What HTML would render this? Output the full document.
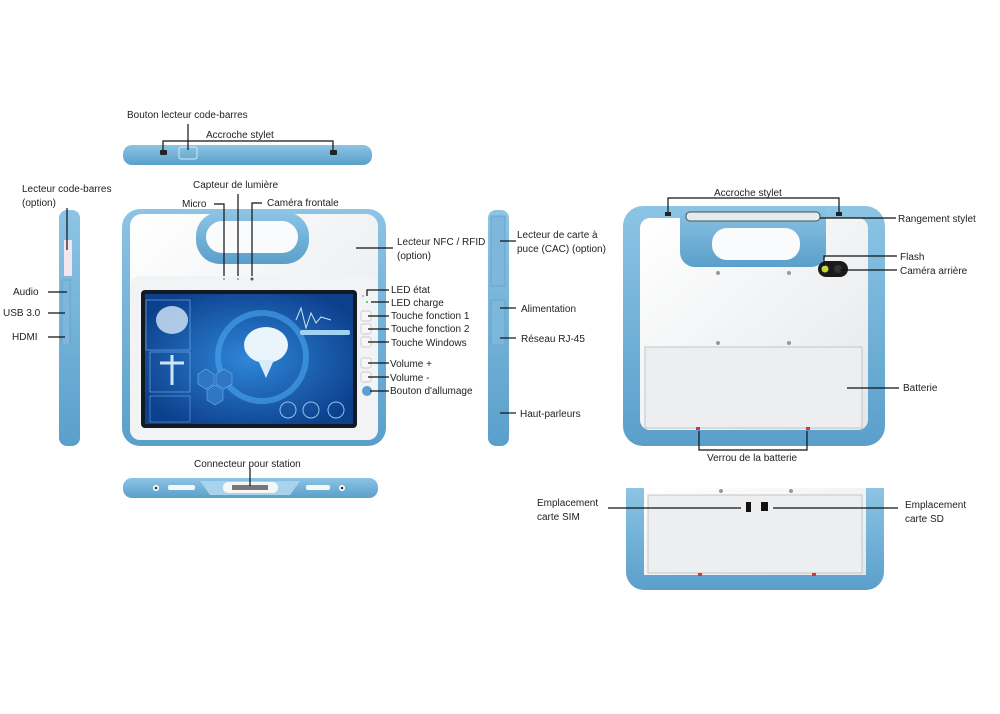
<!DOCTYPE html>
<html><head><meta charset="utf-8"><style>
html,body{margin:0;padding:0;background:#fff;}
svg{display:block;}
text{font-family:"Liberation Sans",sans-serif;font-size:10px;fill:#222;}
</style></head><body>
<svg width="1000" height="714" viewBox="0 0 1000 714" xmlns="http://www.w3.org/2000/svg">
<defs>
<linearGradient id="bl" x1="0" y1="0" x2="0" y2="1"><stop offset="0" stop-color="#8cc4e4"/><stop offset="1" stop-color="#5a9fcb"/></linearGradient>
<linearGradient id="wh" x1="0" y1="0" x2="1" y2="1"><stop offset="0" stop-color="#ffffff"/><stop offset="1" stop-color="#e4e7ea"/></linearGradient>
<radialGradient id="scr" cx="0.5" cy="0.5" r="0.6"><stop offset="0" stop-color="#2f86d8"/><stop offset="1" stop-color="#0c3f8c"/></radialGradient>
</defs>

<!-- TOP VIEW -->
<rect x="123" y="145" width="249" height="20" rx="9" fill="url(#bl)"/>
<rect x="160" y="150" width="7" height="5" rx="1" fill="#222"/>
<rect x="330" y="150" width="7" height="5" rx="1" fill="#222"/>
<rect x="179" y="147" width="18" height="12" rx="2" fill="none" stroke="#d8eaf5" stroke-width="1"/>

<!-- LEFT SIDE -->
<rect x="59" y="210" width="21" height="236" rx="8" fill="url(#bl)"/>
<rect x="64" y="240" width="8" height="36" fill="#f4e6ee"/>
<rect x="62" y="280" width="8" height="65" fill="#7db8dc" stroke="#5a98c0" stroke-width="0.6"/>

<!-- FRONT -->
<rect x="122" y="209" width="264" height="237" rx="18" fill="url(#bl)"/>
<rect x="130" y="214" width="248" height="226" rx="12" fill="url(#wh)"/>
<rect x="130" y="276" width="248" height="164" rx="10" fill="#f2f3f4"/>
<rect x="196" y="212" width="113" height="52" rx="24" fill="url(#bl)"/>
<rect x="206" y="221" width="92" height="32" rx="16" fill="#fafbfc"/>
<circle cx="224" cy="279" r="0.8" fill="#555"/><circle cx="238" cy="279" r="0.8" fill="#555"/><circle cx="252" cy="279" r="1.5" fill="#555"/>
<rect x="141" y="290" width="216" height="138" rx="4" fill="#141a22"/>
<rect x="145" y="294" width="208" height="130" fill="url(#scr)"/>
<rect x="146" y="300" width="44" height="50" fill="none" stroke="#7fb8ea" stroke-width="0.6"/>
<ellipse cx="172" cy="320" rx="16" ry="14" fill="#d5e9f8" opacity="0.8"/>
<rect x="150" y="352" width="40" height="40" fill="none" stroke="#7fb8ea" stroke-width="0.6"/>
<path d="M172,355 v30 M160,363 h24" stroke="#cfe6f8" stroke-width="3"/>
<circle cx="262" cy="357" r="44" fill="none" stroke="#4aa6f0" stroke-width="6" opacity="0.6"/>
<ellipse cx="266" cy="345" rx="22" ry="18" fill="#eaf4fb"/>
<path d="M258,360 h16 l-8,18 z" fill="#d8ebf8"/>
<path d="M296,320 l5,-12 5,20 5,-15 5,10 5,-6 10,3" stroke="#cbe4f7" fill="none"/>
<rect x="300" y="330" width="50" height="5" rx="2" fill="#9fd2f3"/>
<path d="M198,374 l8,-5 8,5 v10 l-8,5 -8,-5z M216,374 l8,-5 8,5 v10 l-8,5 -8,-5z M207,390 l8,-5 8,5 v10 l-8,5 -8,-5z" fill="#2f76c4" stroke="#6cb2ee" stroke-width="0.6"/>
<circle cx="288" cy="410" r="8" fill="none" stroke="#8cc4ee"/><circle cx="311" cy="410" r="8" fill="none" stroke="#8cc4ee"/><circle cx="336" cy="410" r="8" fill="none" stroke="#8cc4ee"/>
<rect x="150" y="396" width="40" height="26" fill="none" stroke="#7fb8ea" stroke-width="0.5"/>
<circle cx="363" cy="296" r="1" fill="#aaa"/><circle cx="367" cy="302" r="1" fill="#3c3"/>
<g fill="#f7f7f7" stroke="#bbb" stroke-width="0.7">
<rect x="361" y="311" width="10" height="10" rx="2"/><rect x="361" y="324" width="10" height="10" rx="2"/><rect x="361" y="337" width="10" height="10" rx="2"/><rect x="361" y="358" width="10" height="10" rx="2"/><rect x="361" y="372" width="10" height="10" rx="2"/>
</g>
<circle cx="367" cy="391" r="5" fill="#5b9fd6"/>

<!-- BOTTOM VIEW -->
<rect x="123" y="478" width="255" height="20" rx="9" fill="url(#bl)"/>
<path d="M200,481 h100 l-10,14 h-80z" fill="#a9d3ec"/>
<rect x="223" y="482" width="55" height="11" rx="5" fill="#f4f6f8"/>
<rect x="232" y="485" width="36" height="5" fill="#777"/>
<rect x="168" y="485" width="27" height="5" rx="2" fill="#f4f6f8"/>
<rect x="306" y="485" width="24" height="5" rx="2" fill="#f4f6f8"/>
<circle cx="156" cy="488" r="3" fill="#fff"/><circle cx="156" cy="488" r="1.3" fill="#333"/>
<circle cx="342" cy="488" r="3" fill="#fff"/><circle cx="342" cy="488" r="1.3" fill="#333"/>

<!-- RIGHT SIDE -->
<rect x="488" y="210" width="21" height="236" rx="8" fill="url(#bl)"/>
<rect x="491" y="216" width="14" height="70" fill="#7db8dc" stroke="#5a98c0" stroke-width="0.6"/>
<rect x="491" y="300" width="14" height="45" fill="#7db8dc" stroke="#5a98c0" stroke-width="0.6"/>

<!-- BACK -->
<rect x="623" y="206" width="262" height="240" rx="20" fill="url(#bl)"/>
<rect x="640" y="218" width="228" height="212" rx="10" fill="url(#wh)"/>
<path d="M680,207 h146 v45 a15,15 0 0 1 -15,15 h-116 a15,15 0 0 1 -15,-15z" fill="url(#bl)"/>
<rect x="686" y="212" width="134" height="9" rx="4" fill="#e8ebee" stroke="#355" stroke-width="1"/>
<rect x="712" y="228" width="88" height="32" rx="15" fill="#fafbfc"/>
<rect x="665" y="212" width="6" height="4" fill="#222"/><rect x="836" y="212" width="6" height="4" fill="#222"/>
<rect x="818" y="261" width="30" height="16" rx="8" fill="#1b1b1b"/><circle cx="825" cy="269" r="3.5" fill="#c8d83a"/><circle cx="838" cy="269" r="4" fill="#333"/>
<rect x="645" y="347" width="217" height="81" fill="#eceef0" stroke="#bbb" stroke-width="0.8"/>
<g fill="#999"><circle cx="718" cy="273" r="2"/><circle cx="789" cy="273" r="2"/><circle cx="718" cy="343" r="2"/><circle cx="789" cy="343" r="2"/></g>
<rect x="696" y="427" width="4" height="3" fill="#d33"/><rect x="806" y="427" width="4" height="3" fill="#d33"/>

<!-- BACK BOTTOM -->
<path d="M626,488 h18 v87 h220 v-87 h20 v84 a18,18 0 0 1 -18,18 h-222 a18,18 0 0 1 -18,-18z" fill="url(#bl)"/>
<rect x="644" y="488" width="222" height="87" fill="url(#wh)"/>
<rect x="648" y="495" width="214" height="78" fill="#eceef0" stroke="#bbb" stroke-width="0.8"/>
<circle cx="721" cy="491" r="2" fill="#999"/><circle cx="791" cy="491" r="2" fill="#999"/>
<rect x="746" y="502" width="5" height="10" fill="#111"/><rect x="761" y="502" width="7" height="9" fill="#111"/>
<rect x="698" y="573" width="4" height="3" fill="#d33"/><rect x="812" y="573" width="4" height="3" fill="#d33"/>

<g stroke="#111" stroke-width="1.2" fill="none">
<polyline points="163,150 163,141 333,141 333,150"/>
<line x1="188" y1="124" x2="188" y2="150"/>
<line x1="67" y1="208" x2="67" y2="250"/>
<line x1="48" y1="292" x2="67" y2="292"/>
<line x1="48" y1="313" x2="65" y2="313"/>
<line x1="48" y1="337" x2="65" y2="337"/>
<polyline points="214,204 224,204 224,276"/>
<line x1="238" y1="194" x2="238" y2="276"/>
<polyline points="262,203 252,203 252,276"/>
<line x1="356" y1="248" x2="393" y2="248"/>
<polyline points="367,296 367,290 389,290"/>
<line x1="371" y1="302" x2="389" y2="302"/>
<line x1="368" y1="316" x2="389" y2="316"/>
<line x1="368" y1="329" x2="389" y2="329"/>
<line x1="368" y1="342" x2="389" y2="342"/>
<line x1="368" y1="363" x2="389" y2="363"/>
<line x1="368" y1="377" x2="389" y2="377"/>
<line x1="370" y1="391" x2="389" y2="391"/>
<line x1="250" y1="468" x2="250" y2="486"/>
<line x1="500" y1="241" x2="516" y2="241"/>
<line x1="500" y1="308" x2="516" y2="308"/>
<line x1="500" y1="338" x2="516" y2="338"/>
<line x1="500" y1="413" x2="516" y2="413"/>
<polyline points="668,212 668,198 839,198 839,212"/>
<line x1="820" y1="218" x2="896" y2="218"/>
<polyline points="824,266 824,256 897,256"/>
<line x1="840" y1="270" x2="897" y2="270"/>
<line x1="847" y1="388" x2="899" y2="388"/>
<polyline points="699,431 699,450 807,450 807,431"/>
<line x1="608" y1="508" x2="741" y2="508"/>
<line x1="773" y1="508" x2="898" y2="508"/>
</g>

<text x="127" y="118">Bouton lecteur code-barres</text>
<text x="206" y="138">Accroche stylet</text>
<text x="22" y="192">Lecteur code-barres</text>
<text x="22" y="206">(option)</text>
<text x="13" y="295">Audio</text>
<text x="3" y="316">USB 3.0</text>
<text x="12" y="340">HDMI</text>
<text x="193" y="188">Capteur de lumière</text>
<text x="182" y="207">Micro</text>
<text x="267" y="206">Caméra frontale</text>
<text x="397" y="245">Lecteur NFC / RFID</text>
<text x="397" y="259">(option)</text>
<text x="391" y="293">LED état</text>
<text x="391" y="306">LED charge</text>
<text x="391" y="319">Touche fonction 1</text>
<text x="391" y="332">Touche fonction 2</text>
<text x="391" y="346">Touche Windows</text>
<text x="390" y="367">Volume +</text>
<text x="390" y="381">Volume -</text>
<text x="390" y="394">Bouton d'allumage</text>
<text x="194" y="467">Connecteur pour station</text>
<text x="517" y="238">Lecteur de carte à</text>
<text x="517" y="252">puce (CAC) (option)</text>
<text x="521" y="312">Alimentation</text>
<text x="521" y="342">Réseau RJ-45</text>
<text x="520" y="417">Haut-parleurs</text>
<text x="714" y="196">Accroche stylet</text>
<text x="898" y="222">Rangement stylet</text>
<text x="900" y="260">Flash</text>
<text x="900" y="274">Caméra arrière</text>
<text x="903" y="391">Batterie</text>
<text x="707" y="461">Verrou de la batterie</text>
<text x="537" y="506">Emplacement</text>
<text x="537" y="520">carte SIM</text>
<text x="905" y="508">Emplacement</text>
<text x="905" y="522">carte SD</text>
</svg>
</body></html>
